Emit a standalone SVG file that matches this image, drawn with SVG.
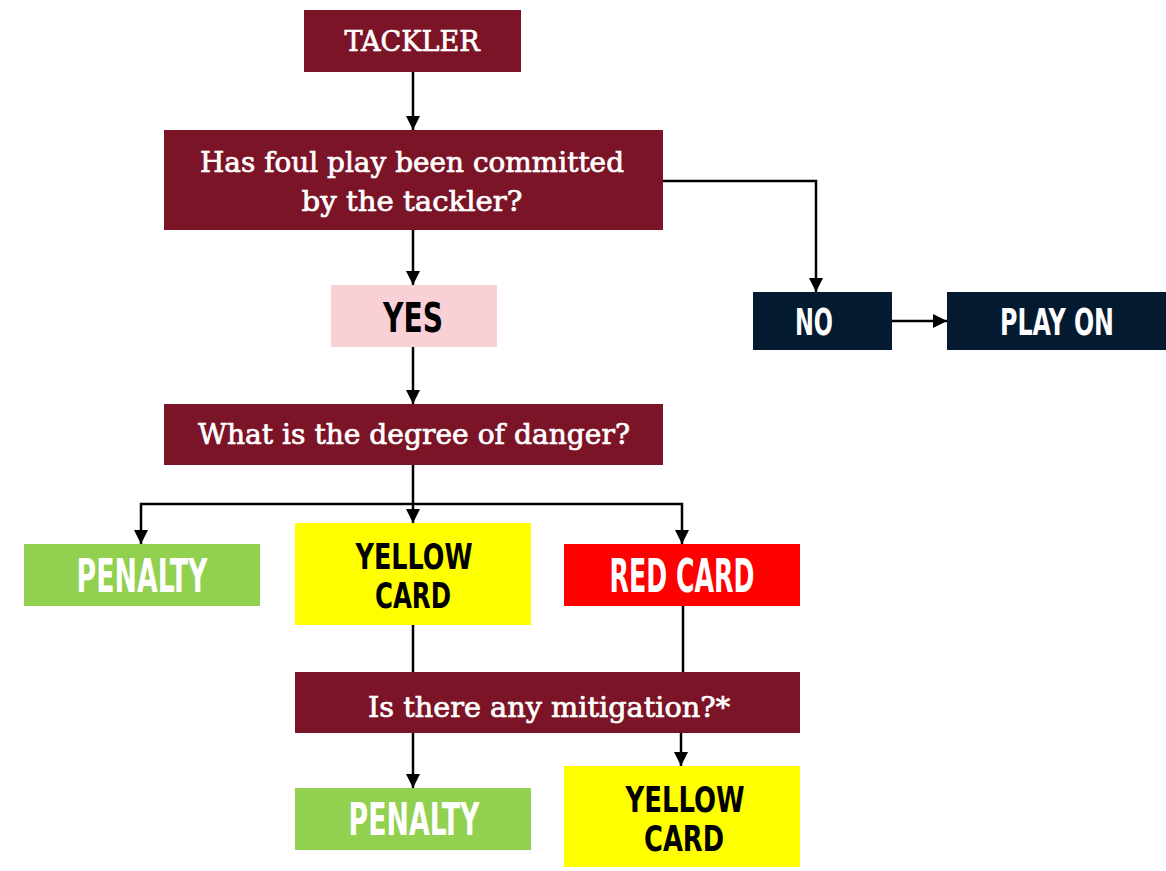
<svg xmlns="http://www.w3.org/2000/svg" width="1166" height="871" viewBox="0 0 1166 871">
<style>
.maroon{fill:#7b1426}
.navy{fill:#031a30}
.q{font-family:"DejaVu Serif","Liberation Serif",serif;font-size:27px;fill:#ffffff;stroke:#ffffff;stroke-width:0.7;text-anchor:middle}
.b{font-family:"DejaVu Sans Condensed","DejaVu Sans","Liberation Sans",sans-serif;font-weight:bold;text-anchor:middle}
.w{fill:#ffffff}
.k{fill:#000000}
.c{fill:none;stroke:#000;stroke-width:2.5}
</style>
<defs>
<marker id="ah" markerUnits="userSpaceOnUse" markerWidth="16" markerHeight="16" refX="14" refY="7" orient="auto">
<path d="M0,0 L14,7 L0,14 Z" fill="#000"/>
</marker>
</defs>
<rect width="1166" height="871" fill="#ffffff"/>
<g id="connectors">
<path class="c" d="M413,72 V130" marker-end="url(#ah)"/>
<path class="c" d="M413,230 V285" marker-end="url(#ah)"/>
<path class="c" d="M663,181 H816 V292" marker-end="url(#ah)"/>
<path class="c" d="M892,321 H947" marker-end="url(#ah)"/>
<path class="c" d="M413,347 V404" marker-end="url(#ah)"/>
<path class="c" d="M413,465 V523" marker-end="url(#ah)"/>
<path class="c" d="M413,504 H141 V544" marker-end="url(#ah)"/>
<path class="c" d="M413,504 H682 V544" marker-end="url(#ah)"/>
<path class="c" d="M413,625 V672"/>
<path class="c" d="M683,606 V672"/>
<path class="c" d="M413,733 V788" marker-end="url(#ah)"/>
<path class="c" d="M681,733 V766" marker-end="url(#ah)"/>
</g>
<g id="tackler">
<rect class="maroon" x="304" y="10" width="217" height="62"/>
<text class="q" x="412" y="51" font-size="25" textLength="135" lengthAdjust="spacingAndGlyphs">TACKLER</text>
</g>
<g id="foul-play">
<rect class="maroon" x="164" y="130" width="499" height="100"/>
<text class="q" x="412" y="172" textLength="424" lengthAdjust="spacingAndGlyphs">Has foul play been committed</text>
<text class="q" x="412" y="211" textLength="221" lengthAdjust="spacingAndGlyphs">by the tackler?</text>
</g>
<g id="yes">
<rect x="331" y="285" width="166" height="62" fill="#f8d0d6"/>
<text class="b k" x="413" y="332" font-size="41" textLength="60" lengthAdjust="spacingAndGlyphs">YES</text>
</g>
<g id="no">
<rect class="navy" x="753" y="292" width="139" height="58"/>
<text class="b w" x="814" y="335" font-size="38" textLength="38" lengthAdjust="spacingAndGlyphs">NO</text>
</g>
<g id="play-on">
<rect class="navy" x="947" y="292" width="219" height="58"/>
<text class="b w" x="1057" y="335" font-size="38" textLength="114" lengthAdjust="spacingAndGlyphs">PLAY ON</text>
</g>
<g id="danger">
<rect class="maroon" x="164" y="404" width="499" height="61"/>
<text class="q" x="414" y="444" textLength="432" lengthAdjust="spacingAndGlyphs">What is the degree of danger?</text>
</g>
<g id="penalty-1">
<rect x="24" y="544" width="236" height="62" fill="#92d050"/>
<text class="b w" x="142" y="592" font-size="46" textLength="131" lengthAdjust="spacingAndGlyphs">PENALTY</text>
</g>
<g id="yellow-card-1">
<rect x="295" y="523" width="236" height="102" fill="#ffff00"/>
<text class="b k" x="414" y="569" font-size="36" textLength="117" lengthAdjust="spacingAndGlyphs">YELLOW</text>
<text class="b k" x="413" y="608" font-size="36" textLength="76" lengthAdjust="spacingAndGlyphs">CARD</text>
</g>
<g id="red-card">
<rect x="564" y="544" width="236" height="62" fill="#ff0000"/>
<text class="b w" x="682" y="592" font-size="46" textLength="145" lengthAdjust="spacingAndGlyphs">RED CARD</text>
</g>
<g id="mitigation">
<rect class="maroon" x="295" y="672" width="505" height="61"/>
<text class="q" x="549" y="717" textLength="362" lengthAdjust="spacingAndGlyphs">Is there any mitigation?*</text>
</g>
<g id="penalty-2">
<rect x="295" y="788" width="236" height="62" fill="#92d050"/>
<text class="b w" x="414" y="835" font-size="44" textLength="131" lengthAdjust="spacingAndGlyphs">PENALTY</text>
</g>
<g id="yellow-card-2">
<rect x="564" y="766" width="236" height="101" fill="#ffff00"/>
<text class="b k" x="685" y="812" font-size="36" textLength="119" lengthAdjust="spacingAndGlyphs">YELLOW</text>
<text class="b k" x="684" y="851" font-size="36" textLength="80" lengthAdjust="spacingAndGlyphs">CARD</text>
</g>
</svg>
